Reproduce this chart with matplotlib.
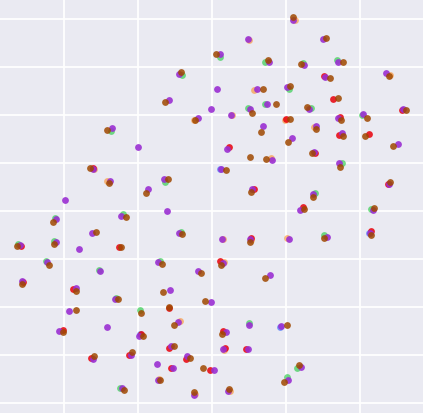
import matplotlib
matplotlib.use("Agg")
import matplotlib.pyplot as plt
from matplotlib.ticker import MultipleLocator
import seaborn as sns

# embedding coordinates of each group
blue_x = [8.0, 68, 157, -72.5]
blue_y = [42.3, -115.5, -21.7, -123]

orange_x = [-118, -104.7, 37, 42.3, 59, 82.5, 178, 102.3, 73, -18.3, 20,
            38.7, 11, 12, -32, 12.3, -53, -16.7, 18, 75.3]
orange_y = [41.7, 29.7, 171.3, 121, 53, 191, 136, 84.3, 91.3, 91, 96,
            -28.7, -27.7, -51, -109.7, -139, -168.3, -183, -179.7, -27.3]

green_x = [-101, 7.7, 53, -29.7, 36.3, 53, -47, 91, 125, 77.3, 99.3, 150, 130,
           102.7, -157, -88.7, -194, -158, -166, -96, -113, -30.7, -52, 37,
           -72, 158.7, 112.3, 85.3, 75, -92]
green_y = [79.7, 154.3, 149, 136.3, 103, 107, 29.3, 148, 150.7, 121.7, 103.3,
           96, 47.7, 17.7, -7, -3, -33, -30, -49.7, -86.7, -59, -21, -50,
           -112.3, -99, 1.7, -23.7, -157, -166.3, -176.7]

red_x = [-119.3, 41.7, 17, 112.3, 121, 189.7, 74, 128.3, 127, 156.7, 103.3,
         176.3, -191.3, -189.3, -138.7, -149.3, -121, -83.3, -92.7, 7.7, 39,
         11.3, -43, -43, 13, 34, -26, -40.7, -1.7, 159, -71, 91]
red_y = [43.3, 21.7, 63.7, 135.3, 112, 101, 92, 94.3, 76.3, 77.3, 58.3, 27,
         -35, -71, -77.7, -119, -147, -144.3, -36.3, -50.3, -27.3, -119.7,
         -96.7, -136.7, -137.3, -138, -148.3, -156.7, -159, -20.3, -123.3, 4]

purple_x = [-100.3, -73.7, -119.3, -102.3, -147, 35.7, 7.7, 56.7, -33.3, 5.3,
            44.7, -42.7, -1, 38, 55.3, -14, 19.3, 51.3, 14.7, 59.7, 9, -48.3,
            -64, 40, 81, 111, 92, 126, 174.3, 113.3, 75, 96.7, 191.3, 125.7,
            151.3, 103.7, 79.7, 130, 186, 101.7, 127.3, 176.7, 101, -156.3,
            -91, -120.3, -192, -156.3, -132.7, -165.3, -112.3, -190.3, -136.3,
            -97.3, -143.3, -153.3, -104.7, -119, -81.3, -89.7, -44.7, -32.7,
            9.7, 38, -53.7, -13.7, 10.7, 57.7, -42, -1.3, -73, -33.7, 13.7,
            37, 69, -41, 11, 36, -25.3, -55.3, -38.7, 1.7, -54.3, -17.7, 16.3,
            75.7, 88.3, 161.3, 77, 115, 157.7, 88.7]
purple_y = [82.7, 64.3, 42, 29.7, 11, 172, 156.7, 148.7, 136.7, 122.3, 121.7,
            111, 101.7, 102.3, 107, 92.7, 96, 85, 62.3, 51.3, 42, 32, 22.3,
            22.3, 191, 171.7, 145.7, 149.3, 137.7, 134.3, 123.7, 102, 101.7,
            93, 97, 85, 73.3, 77.7, 67.3, 59.3, 47.7, 26.7, 17, -8, -5.3,
            -22.3, -34.3, -31, -38, -50.7, -60, -70.3, -77, -87.7, -100,
            -119.7, -116.3, -147.7, -144, -177.3, -0.3, -21.7, -28.3, -28,
            -51.3, -60, -51.7, -63.7, -79.3, -91, -125, -111, -121, -113.7,
            -115, -135, -138, -138, -145.3, -152.7, -157, -159, -169, -184,
            -180.3, -169, 1.3, 1, -28, -26, -22, -156.3]

brown_x = [-105, -122.3, -103.3, 4, 56.3, -31, 50.7, -47.3, 40, 63.7, -17.3,
           49.3, 38, 53.7, 14, -43.7, -65.7, 39, 81, 114.3, 88.7, 131, 177,
           117.7, 78.3, 126, 95, 193.7, 78, 129.3, 155.3, 104, 76.3, 131,
           152.7, 181.3, 100, 127.7, 177.7, 101, -159.3, -86, -115.7, -194.7,
           -158.3, -90.7, -163.3, -190.3, -136, -93.7, -136.3, -149.3, -117.7,
           -80, -87.7, -30, 38, -50.3, -10.7, 9, 53.3, -49, -7.3, -42.7, -71,
           -69, -37.7, 9.7, 75.3, -38.3, -22, -9.3, -51.7, -18, 17, 71.7,
           92.3, 162, 111.7, 159.3, 86.7]
brown_y = [81.3, 43, 28, 156.7, 151, 139, 122, 109, 98, 106.7, 91.3, 78.7,
           54.3, 52, 41.3, 32, 18, 19.3, 194.3, 172.7, 146.7, 149.3, 135, 133,
           125, 113, 104.3, 101.3, 91.7, 90.7, 92.7, 81.7, 69, 75, 74.7, 65,
           57.7, 44.3, 29.3, 14.3, -10.7, -5.7, -21.3, -35.3, -33.3, -35.7,
           -53.7, -72.7, -80, -88, -98.7, -120.7, -145, -141.3, -179.3, -23.3,
           -30.7, -53.3, -61.7, -54, -66.7, -81.3, -90, -95.7, -102, -124.7,
           -114.3, -123, -113.7, -135.3, -146.7, -157, -169.3, -181.3, -177.7,
           -171.3, 2.3, 3.3, -26.7, -24.3, -154.3]

groups = [
    (blue_x, blue_y, 0.5),
    (orange_x, orange_y, 0.5),
    (green_x, green_y, 0.6),
    (red_x, red_y, 0.85),
    (purple_x, purple_y, 0.9),
    (brown_x, brown_y, 0.85),
]

sns.set_theme(style="darkgrid")
colors = sns.color_palette("bright", 6)
colors[4] = "#9a2fd2"

fig = plt.figure(figsize=(4.23, 4.13), dpi=100)
ax = fig.add_axes([0, 0, 1, 1])

for (gx, gy, a), c in zip(groups, colors):
    ax.scatter(gx, gy, s=24, color=c, alpha=a, linewidths=0)

ax.set_xlim(-212, 211)
ax.set_ylim(-202, 211)
ax.xaxis.set_major_locator(MultipleLocator(74))
ax.yaxis.set_major_locator(MultipleLocator(48))
ax.tick_params(length=0, labelbottom=False, labelleft=False)
ax.grid(True, color="white", linewidth=1.3)
for s in ax.spines.values():
    s.set_visible(False)

fig.savefig("out.png", dpi=100)
